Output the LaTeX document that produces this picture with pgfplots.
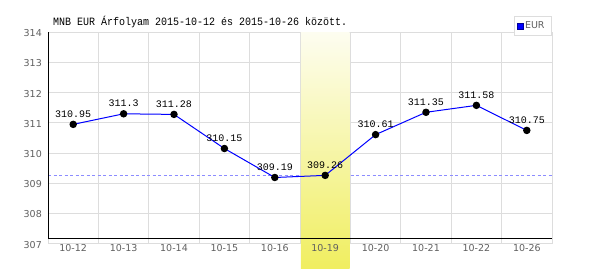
\documentclass[border=0pt]{standalone}
\usepackage{pgfplots}
\usepackage{pgfplotstable}
\pgfplotsset{compat=1.18}
\usepackage{fontspec}
\setmainfont{DejaVu Sans}
\newfontfamily\monofont{Liberation Mono}
\newfontfamily\sansfont{DejaVu Sans}
\definecolor{gridgray}{RGB}{221,221,221}
\definecolor{labgray}{RGB}{96,96,96}
\definecolor{dashblue}{RGB}{140,140,255}
\definecolor{bandtop}{RGB}{253,253,240}
\definecolor{bandbot}{RGB}{240,238,96}
\pgfplotstableread{
x y lab
0 310.95 310.95
1 311.3 311.3
2 311.28 311.28
3 310.15 310.15
4 309.19 309.19
5 309.26 309.26
6 310.61 310.61
7 311.35 311.35
8 311.58 311.58
9 310.75 310.75
}\eurdata
\pgfplotsset{
  base/.style={
    at={(48pt,26.4pt)}, anchor=south west,
    scale only axis, width=504pt, height=211.3pt,
    xmin=-0.5, xmax=9.5, ymin=307, ymax=314,
    clip=false,
    axis line style={draw=none},
    major tick length=0pt, minor tick length=0pt,
  },
  nolabels/.style={xtick=\empty, ytick=\empty},
}
\begin{document}
\begin{tikzpicture}
\fill[white] (0,0) rectangle (600pt,270pt);
\node[anchor=base west, inner sep=0pt, font=\monofont\fontsize{10}{12}\selectfont] at (53pt,244pt) {\scalebox{1}[1.12]{MNB EUR Árfolyam 2015-10-12 és 2015-10-26 között.}};
% grid layer
\begin{axis}[base,
  xtick={-0.5,0.5,1.5,2.5,3.5,4.5,5.5,6.5,7.5,8.5,9.5},
  ytick={307,308,309,310,311,312,313,314},
  xticklabels={}, yticklabels={},
  xmajorgrids=true, ymajorgrids=true,
  major grid style={gridgray, line width=1pt},
]
\addplot[dashblue, dash pattern=on 3pt off 2.5pt, line width=1pt] coordinates {(-0.5,309.26) (9.5,309.26)};
\end{axis}
% band layer
\begin{axis}[base, nolabels]
\addplot[draw=none, fill=none, forget plot] coordinates {(0,310)};
\shade[top color=bandtop, bottom color=bandbot] (axis cs:4.515,314) rectangle (axis cs:5.485,306.19);
\end{axis}
% data layer
\begin{axis}[base,
  xtick={0,...,9},
  xticklabels={10-12,10-13,10-14,10-15,10-16,10-19,10-20,10-21,10-22,10-26},
  ytick={307,308,309,310,311,312,313,314},
  tick label style={font=\sansfont\fontsize{9.5}{11}\selectfont, text=labgray, inner sep=0pt},
  xticklabel style={anchor=north, yshift=-1pt},
  yticklabel style={anchor=east, xshift=-6pt, yshift=-1pt},
  /pgf/number format/assume math mode=true,
  legend style={at={(rel axis cs:1,1.078)}, anchor=north east, draw=gridgray, line width=1pt, fill=white,
    font=\sansfont\fontsize{9.5}{11}\selectfont, text=labgray, inner xsep=2pt, inner ysep=3.5pt,
    nodes={inner xsep=1.5pt}},
  legend cell align=left,
]
\addlegendimage{legend image code/.code={\draw[draw=blue!60!black, fill=blue, line width=0.8pt] (2pt,-3pt) rectangle (8pt,3pt);}}
\addlegendentry{\makebox[23pt][l]{EUR}}
\draw[black, line width=1pt] (axis cs:-0.5,314) -- (axis cs:-0.5,307.18) -- (axis cs:9.5,307.18);
\addplot[blue, line width=1pt, mark=*, mark size=3.2pt, mark options={black, fill=black},
  point meta=explicit symbolic, nodes near coords,
  every node near coord/.append style={font=\monofont\fontsize{10}{12}\selectfont, text=black, anchor=base, yshift=7pt, inner sep=0pt},
  forget plot] table[x=x, y=y, meta=lab] {\eurdata};
\end{axis}
\end{tikzpicture}
\end{document}
